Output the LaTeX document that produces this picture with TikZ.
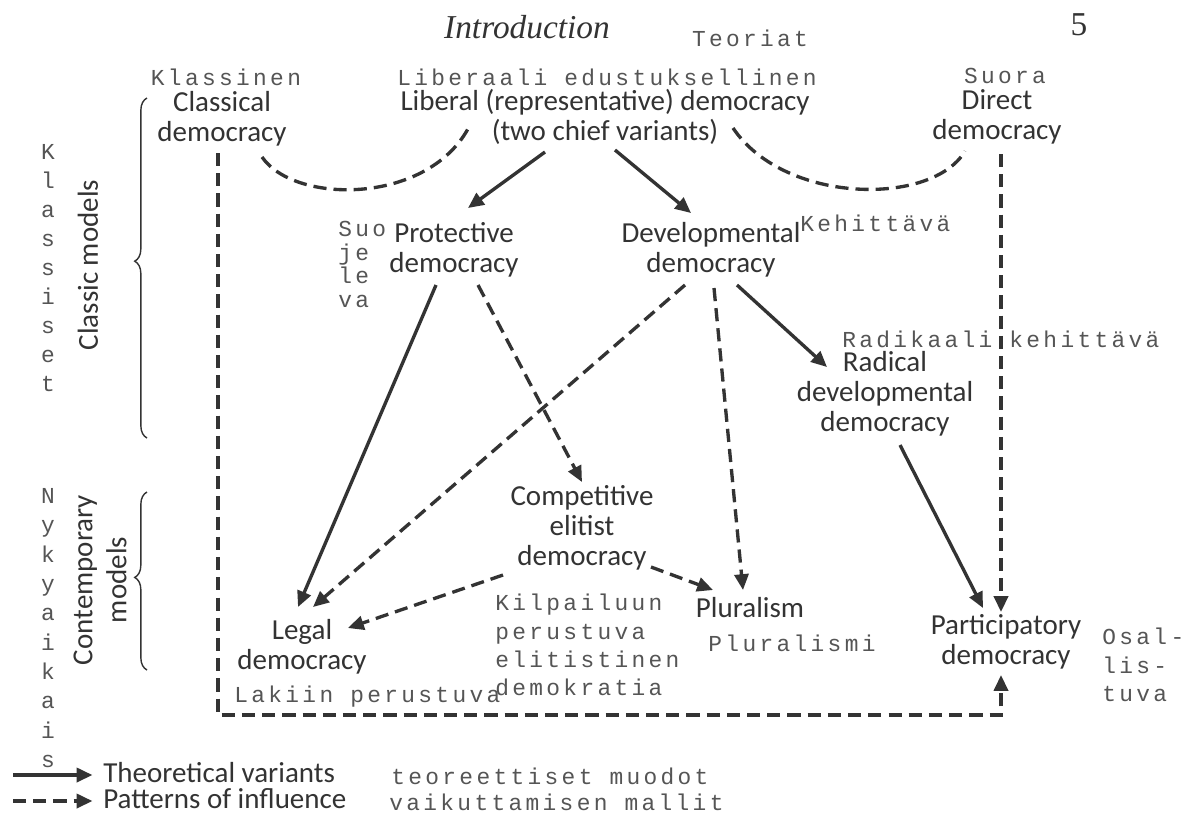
\documentclass[tikz,border=0pt]{standalone}
\usepackage{fontspec}
\setmainfont{Carlito}
\newfontfamily\typedfont[LetterSpace=14.6]{Liberation Mono}
\newfontfamily\pagefont{Liberation Serif}
\usetikzlibrary{arrows.meta,decorations.pathreplacing}
\definecolor{ink}{HTML}{333333}
\definecolor{pencil}{HTML}{555555}

\begin{document}
\begin{tikzpicture}[x=0.02cm, y=-0.02cm,
	model/.style={align=center, text=ink, inner sep=0pt,
	font=\fontsize{16.5}{17}\selectfont},
	note/.style={text=pencil, inner sep=0pt, align=left,
	font=\typedfont\fontsize{13}{16}\selectfont},
	keytext/.style={text=ink, inner sep=0pt, anchor=base west,
	text height=10pt, text depth=0pt, font=\fontsize{16.5}{17}\selectfont},
	variant/.style={draw=ink, line width=1.9pt, -{Triangle[length=9pt,width=8pt]}},
	influence/.style={variant, dash pattern=on 7.5pt off 4pt},
	curly/.style={draw=ink, line width=0.8pt, decorate,
	decoration={brace, amplitude=7pt, aspect=0.52}}
	]
	\fill[white] (0,0) rectangle (1186,816);
	\useasboundingbox (0,0) rectangle (1186,816);

	% page head
	\node[text=ink, font=\pagefont\itshape\fontsize{19}{22}\selectfont] (head) at (527,27) {Introduction};
	\node[text=ink, font=\pagefont\fontsize{19}{22}\selectfont] (pageno) at (1079,25) {5};
	\node[note] (teoriat) at (750,38) {Teoriat};

	% models
	\node[model] (classical) at (222,119) {Classical\\democracy};
	\node[model] (liberal) at (605,117) {Liberal (representative) democracy\\(two chief variants)};
	\node[model] (direct) at (997,117) {Direct\\democracy};
	\node[model] (protective) at (454,250) {Protective\\democracy};
	\node[model] (developmental) at (711,250) {Developmental\\democracy};
	\node[model] (radical) at (885,394) {Radical\\developmental\\democracy};
	\node[model] (competitive) at (582,528) {Competitive\\elitist\\democracy};
	\node[model] (pluralism) at (750,608) {Pluralism};
	\node[model] (legal) at (302,647) {Legal\\democracy};
	\node[model] (participatory) at (1006,642) {Participatory\\democracy};

	% finnish notes
	\node[note] (klassinen) at (226,77) {Klassinen};
	\node[note] (liberaali) at (607,77) {Liberaali edustuksellinen};
	\node[note] (suora) at (1005,76) {Suora};
	\node[note, anchor=north west, font=\typedfont\fontsize{13}{13.4}\selectfont] (suojeleva) at (338,221) {Suo\\je\\le\\va};
	\node[note, anchor=west] (kehittava) at (800,223) {Kehittävä};
	\node[note, anchor=west] (radikaali) at (842,339) {Radikaali kehittävä};
	\node[note, anchor=north west] (kilpailuun) at (495,594) {Kilpailuun\\perustuva\\elitistinen\\demokratia};
	\node[note] (pluralismi) at (792,643) {Pluralismi};
	\node[note, anchor=west] (lakiin) at (234,697) {Lakiin perustuva};
	\node[note, anchor=north west] (osallistuva) at (1102,628) {Osal-\\lis-\\tuva};

	% side labels
	\node[note, align=center, font=\typedfont\fontsize{13}{16.5}\selectfont] (klassiset) at (48,268) {K\\l\\a\\s\\s\\i\\s\\e\\t};
	\node[note, align=center, font=\typedfont\fontsize{13}{16.7}\selectfont] (nykyaikais) at (48,628) {N\\y\\k\\y\\a\\i\\k\\a\\i\\s};
	\node[model, rotate=90] (classic) at (88,265) {Classic models};
	\node[model, rotate=90, font=\fontsize{16.5}{19.4}\selectfont] (contemporary) at (100,580) {Contemporary\\models};
	\draw[curly] (147,438) -- (147,98);
	\draw[curly] (147,670) -- (147,492);

	% links
	\draw[influence, -] ([shift={(40,38)}]classical.center)
		.. controls +(33,48) and +(-40,80) .. ([shift={(-135,8)}]liberal.center);
	\draw[influence, -] ([shift={(128,11)}]liberal.center)
		.. controls +(52,77) and +(-32,55) .. ([shift={(-32,34)}]direct.center);
	\draw[variant] ([shift={(-60,35)}]liberal.center) -- ([shift={(14,-42)}]protective.center);
	\draw[variant] ([shift={(10,33)}]liberal.center) -- ([shift={(-20,-37)}]developmental.center);
	\draw[variant] ([shift={(-18,35)}]protective.center) -- ([shift={(-4,-40)}]legal.center);
	\draw[influence] ([shift={(24,35)}]protective.center) -- ([shift={(0,-46)}]competitive.center);
	\draw[influence] ([shift={(-26,35)}]developmental.center) -- ([shift={(11,-40)}]legal.center);
	\draw[influence] ([shift={(3,38)}]developmental.center) -- ([shift={(-7,-18)}]pluralism.center);
	\draw[variant] ([shift={(26,35)}]developmental.center) -- ([shift={(-58,-27)}]radical.center);
	\draw[variant] ([shift={(15,51)}]radical.center) -- ([shift={(-23,-34)}]participatory.center);
	\draw[influence] ([shift={(4,37)}]direct.center) -- ([shift={(-5,-30)}]participatory.center);
	\draw[influence] ([shift={(-79,47)}]competitive.center) -- ([shift={(46,-19)}]legal.center);
	\draw[influence] ([shift={(69,39)}]competitive.center) -- ([shift={(-37,-18)}]pluralism.center);
	\coordinate (clsout) at ([shift={(-4,34)}]classical.center);
	\coordinate (partin) at ([shift={(-5,33)}]participatory.center);
	\coordinate (floor) at (0,715);
	\draw[influence] (clsout) -- (clsout |- floor) -- (partin |- floor) -- (partin);

	% key
	\node[keytext] (theory) at (103,782) {Theoretical variants};
	\node[keytext] (pattern) at (103,808) {Patterns of influence};
	\node[note, anchor=west] (muodot) at (391,776) {teoreettiset muodot};
	\node[note, anchor=west] (mallit) at (389,802) {vaikuttamisen mallit};
	\coordinate (keyvar) at (13,775);
	\coordinate (keyinf) at (13,801);
	\draw[variant] (keyvar) -- ([xshift=-6pt]keyvar -| theory.west);
	\draw[influence] (keyinf) -- ([xshift=-6pt]keyinf -| pattern.west);
\end{tikzpicture}
\end{document}
